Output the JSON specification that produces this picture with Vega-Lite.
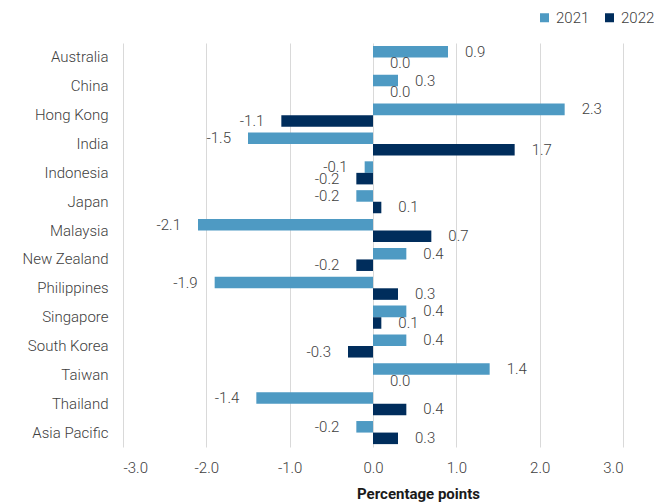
{
  "$schema": "https://vega.github.io/schema/vega-lite/v6.json",
  "width": 500,
  "height": 404,
  "autosize": {"type": "none"},
  "padding": {"left": 123, "top": 43, "right": 31, "bottom": 57},
  "background": "white",
  "config": {
    "font": "Roboto, sans-serif",
    "view": {"stroke": null},
    "axis": {"labelColor": "#404040", "labelFontSize": 15, "labelFontWeight": 300, "titleColor": "#1a1a1a"}
  },
  "data": {
    "values": [
      {"region": "Australia", "year": "2021", "value": 0.9},
      {"region": "Australia", "year": "2022", "value": 0.0},
      {"region": "China", "year": "2021", "value": 0.3},
      {"region": "China", "year": "2022", "value": 0.0},
      {"region": "Hong Kong", "year": "2021", "value": 2.3},
      {"region": "Hong Kong", "year": "2022", "value": -1.1},
      {"region": "India", "year": "2021", "value": -1.5},
      {"region": "India", "year": "2022", "value": 1.7},
      {"region": "Indonesia", "year": "2021", "value": -0.1},
      {"region": "Indonesia", "year": "2022", "value": -0.2},
      {"region": "Japan", "year": "2021", "value": -0.2},
      {"region": "Japan", "year": "2022", "value": 0.1},
      {"region": "Malaysia", "year": "2021", "value": -2.1},
      {"region": "Malaysia", "year": "2022", "value": 0.7},
      {"region": "New Zealand", "year": "2021", "value": 0.4},
      {"region": "New Zealand", "year": "2022", "value": -0.2},
      {"region": "Philippines", "year": "2021", "value": -1.9},
      {"region": "Philippines", "year": "2022", "value": 0.3},
      {"region": "Singapore", "year": "2021", "value": 0.4},
      {"region": "Singapore", "year": "2022", "value": 0.1},
      {"region": "South Korea", "year": "2021", "value": 0.4},
      {"region": "South Korea", "year": "2022", "value": -0.3},
      {"region": "Taiwan", "year": "2021", "value": 1.4},
      {"region": "Taiwan", "year": "2022", "value": 0.0},
      {"region": "Thailand", "year": "2021", "value": -1.4},
      {"region": "Thailand", "year": "2022", "value": 0.4},
      {"region": "Asia Pacific", "year": "2021", "value": -0.2},
      {"region": "Asia Pacific", "year": "2022", "value": 0.3}
    ]
  },
  "transform": [
    {"calculate": "replace(format(datum.value, '.1f'), '\u2212', '-')", "as": "label"}
  ],
  "encoding": {
    "y": {
      "field": "region",
      "type": "nominal",
      "sort": null,
      "scale": {"paddingInner": 0.2, "paddingOuter": 0.1},
      "axis": {"title": null, "domain": false, "ticks": false, "labelPadding": 15}
    },
    "yOffset": {"field": "year", "type": "nominal", "scale": {"paddingInner": 0}},
    "x": {
      "field": "value",
      "type": "quantitative",
      "scale": {"domain": [-3, 3], "nice": false},
      "axis": {
        "title": "Percentage points",
        "titleFontSize": 15,
        "titleFontWeight": "bold",
        "titleX": 295,
        "titleAlign": "center",
        "titlePadding": 11,
        "values": [-3, -2, -1, 0, 1, 2, 3],
        "format": ".1f",
        "labelExpr": "replace(datum.label, '\u2212', '-')",
        "domain": false,
        "ticks": false,
        "labelPadding": 13,
        "grid": true,
        "gridColor": "#d9d9d9",
        "gridWidth": 1
      }
    }
  },
  "layer": [
    {
      "mark": {"type": "bar"},
      "encoding": {
        "color": {
          "field": "year",
          "type": "nominal",
          "scale": {"domain": ["2021", "2022"], "range": ["#4e9ac3", "#002d5c"]},
          "legend": {
            "title": null,
            "orient": "none",
            "direction": "horizontal",
            "legendX": 414,
            "legendY": -33,
            "symbolType": "square",
            "symbolSize": 81,
            "symbolStrokeWidth": 0,
            "labelFontSize": 15,
            "labelFontWeight": 300,
            "labelColor": "#404040",
            "columnPadding": 12,
            "labelOffset": 4
          }
        }
      }
    },
    {
      "transform": [{"filter": "datum.value >= 0"}],
      "mark": {"type": "text", "align": "left", "baseline": "middle", "dx": 17, "fontSize": 15, "fontWeight": 300, "color": "#404040"},
      "encoding": {"text": {"field": "label", "type": "nominal"}}
    },
    {
      "transform": [{"filter": "datum.value < 0"}],
      "mark": {"type": "text", "align": "right", "baseline": "middle", "dx": -17, "fontSize": 15, "fontWeight": 300, "color": "#404040"},
      "encoding": {"text": {"field": "label", "type": "nominal"}}
    }
  ]
}
